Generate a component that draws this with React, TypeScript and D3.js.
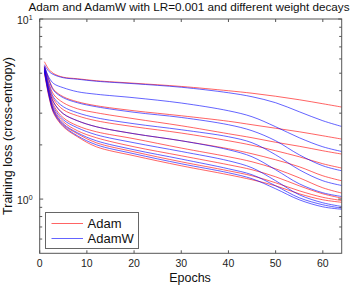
import * as d3 from "d3";
import React, { useEffect, useRef } from "react";

const epochs = [1, 2, 3, 5, 8, 12, 20, 30, 40, 45, 50, 55, 60, 64];

// Adam, one row per weight decay (top to bottom)
const adamRuns = [
  [5.791, 5.228, 4.967, 4.75, 4.659, 4.542, 4.399, 4.222, 3.996, 3.871, 3.725, 3.562, 3.384, 3.244],
  [5.502, 4.6, 4.048, 3.701, 3.472, 3.299, 3.094, 2.902, 2.705, 2.587, 2.474, 2.365, 2.247, 2.154],
  [5.432, 4.371, 3.797, 3.428, 3.174, 3.016, 2.793, 2.554, 2.306, 2.191, 2.068, 1.965, 1.855, 1.778],
  [5.363, 4.153, 3.562, 3.134, 2.902, 2.723, 2.522, 2.326, 2.108, 1.99, 1.855, 1.718, 1.571, 1.487],
  [5.295, 4.048, 3.428, 2.978, 2.723, 2.522, 2.306, 2.108, 1.903, 1.785, 1.653, 1.512, 1.347, 1.264],
  [5.228, 3.946, 3.299, 2.829, 2.554, 2.365, 2.163, 1.92, 1.718, 1.611, 1.473, 1.313, 1.155, 1.08],
  [5.161, 3.846, 3.134, 2.688, 2.396, 2.191, 1.952, 1.74, 1.551, 1.455, 1.33, 1.185, 1.07, 1.013],
  [5.096, 3.749, 3.055, 2.587, 2.306, 2.055, 1.831, 1.611, 1.436, 1.347, 1.232, 1.112, 1.023, 0.982],
  [5.031, 3.654, 2.978, 2.522, 2.219, 1.952, 1.74, 1.531, 1.365, 1.28, 1.185, 1.07, 0.991, 0.96],
];

// AdamW
const adamWRuns = [
  [5.573, 5.096, 4.904, 4.719, 4.63, 4.513, 4.371, 4.179, 3.895, 3.701, 3.428, 3.055, 2.723, 2.531],
  [5.432, 4.719, 4.371, 4.153, 3.946, 3.821, 3.654, 3.415, 3.094, 2.866, 2.522, 2.191, 1.952, 1.838],
  [5.432, 4.542, 3.996, 3.654, 3.428, 3.257, 3.035, 2.84, 2.587, 2.396, 2.108, 1.762, 1.531, 1.436],
  [5.363, 4.26, 3.654, 3.257, 3.016, 2.829, 2.62, 2.427, 2.219, 2.055, 1.762, 1.455, 1.264, 1.19],
  [5.295, 4.048, 3.428, 2.978, 2.723, 2.522, 2.306, 2.108, 1.879, 1.718, 1.455, 1.216, 1.084, 1.034],
  [5.228, 3.895, 3.215, 2.758, 2.489, 2.276, 2.055, 1.838, 1.632, 1.492, 1.264, 1.057, 0.954, 0.91],
  [5.161, 3.797, 3.094, 2.62, 2.335, 2.108, 1.879, 1.668, 1.473, 1.365, 1.185, 1.017, 0.93, 0.891],
  [5.096, 3.701, 3.016, 2.554, 2.247, 2.003, 1.785, 1.571, 1.4, 1.297, 1.141, 0.991, 0.906, 0.878],
];

const xTicks = [0, 10, 20, 30, 40, 50, 60];
const yMinor = [0.6, 0.7, 0.8, 0.9, 2, 3, 4, 5, 6, 7, 8, 9];
const yMajor = [1, 10];
const legendNames = ["Adam", "AdamW"];

export default function App() {
  const ref = useRef<SVGSVGElement>(null);

  useEffect(() => {
    const width = 358, height = 286;
    const left = 39.7, right = 341.7, top = 19, bottom = 253.3;
    const font = "Arial, 'Liberation Sans', sans-serif";
    const axisColor = "#555";

    const svg = d3.select(ref.current);
    svg.selectAll("*").remove();
    svg.attr("width", width).attr("height", height);

    const x = d3.scaleLinear().domain([0, 64]).range([left, right]);
    const y = d3.scaleLog().domain([0.5, 10]).range([bottom, top]);

    svg.append("rect")
      .attr("x", left).attr("y", top)
      .attr("width", right - left).attr("height", bottom - top)
      .attr("fill", "white");

    // curves
    const line = d3.line<number>()
      .x((d, i) => x(epochs[i]))
      .y(d => y(d))
      .curve(d3.curveCatmullRom.alpha(0.5));

    svg.append("g").selectAll("path")
      .data(adamRuns).enter().append("path")
      .attr("d", d => line(d))
      .attr("fill", "none")
      .attr("stroke", "#ff0000")
      .attr("stroke-opacity", 0.68)
      .attr("stroke-width", 0.9);

    svg.append("g").selectAll("path")
      .data(adamWRuns).enter().append("path")
      .attr("d", d => line(d))
      .attr("fill", "none")
      .attr("stroke", "#0000ff")
      .attr("stroke-opacity", 0.68)
      .attr("stroke-width", 0.9);

    // box
    svg.append("rect")
      .attr("x", left).attr("y", top)
      .attr("width", right - left).attr("height", bottom - top)
      .attr("fill", "none")
      .attr("stroke", axisColor)
      .attr("stroke-width", 1);

    const ticks = svg.append("g").attr("stroke", axisColor).attr("stroke-width", 1);
    xTicks.forEach(t => {
      ticks.append("line").attr("x1", x(t)).attr("x2", x(t)).attr("y1", bottom).attr("y2", bottom - 3);
      ticks.append("line").attr("x1", x(t)).attr("x2", x(t)).attr("y1", top).attr("y2", top + 3);
    });
    yMajor.concat(yMinor).forEach(t => {
      const len = yMajor.includes(t) ? 3.5 : 2.5;
      ticks.append("line").attr("x1", left).attr("x2", left + len).attr("y1", y(t)).attr("y2", y(t));
      ticks.append("line").attr("x1", right).attr("x2", right - len).attr("y1", y(t)).attr("y2", y(t));
    });

    // tick labels
    svg.append("g").selectAll("text")
      .data(xTicks).enter().append("text")
      .attr("x", d => x(d))
      .attr("y", 267)
      .attr("text-anchor", "middle")
      .attr("font-family", font)
      .attr("font-size", 10.5)
      .attr("fill", "#222")
      .text(d => d);

    yMajor.forEach((t, i) => {
      const g = svg.append("text")
        .attr("x", 17)
        .attr("y", y(t) + 4.5)
        .attr("font-family", font)
        .attr("font-size", 10.5)
        .attr("fill", "#222");
      g.append("tspan").text("10");
      g.append("tspan").attr("font-size", 7).attr("dy", -3.5).text(i === 0 ? "0" : "1");
    });

    // labels
    svg.append("text")
      .attr("x", 189).attr("y", 11)
      .attr("text-anchor", "middle")
      .attr("font-family", font)
      .attr("font-size", 11.7)
      .attr("fill", "#111")
      .text("Adam and AdamW with LR=0.001 and different weight decays");

    svg.append("text")
      .attr("x", 190).attr("y", 282)
      .attr("text-anchor", "middle")
      .attr("font-family", font)
      .attr("font-size", 12.5)
      .attr("fill", "#111")
      .text("Epochs");

    svg.append("text")
      .attr("transform", "translate(12,136) rotate(-90)")
      .attr("text-anchor", "middle")
      .attr("font-family", font)
      .attr("font-size", 12.5)
      .attr("fill", "#111")
      .text("Training loss (cross-entropy)");

    // legend
    const legend = svg.append("g");
    legend.append("rect")
      .attr("x", 45.5).attr("y", 212.5)
      .attr("width", 93).attr("height", 36)
      .attr("fill", "white")
      .attr("stroke", "#666");
    legendNames.forEach((name, i) => {
      const ly = 223.5 + i * 15;
      legend.append("line")
        .attr("x1", 51.5).attr("x2", 83)
        .attr("y1", ly).attr("y2", ly)
        .attr("stroke", i === 0 ? "#ff0000" : "#0000ff")
        .attr("stroke-opacity", 0.68)
        .attr("stroke-width", 0.9);
      legend.append("text")
        .attr("x", 87.5).attr("y", ly + 4.7)
        .attr("font-family", font)
        .attr("font-size", 13)
        .attr("fill", "#111")
        .text(name);
    });
  }, []);

  return (
    <div>
      <svg ref={ref} style={{ position: "absolute", left: 0, top: 0 }}></svg>
    </div>
  );
}
